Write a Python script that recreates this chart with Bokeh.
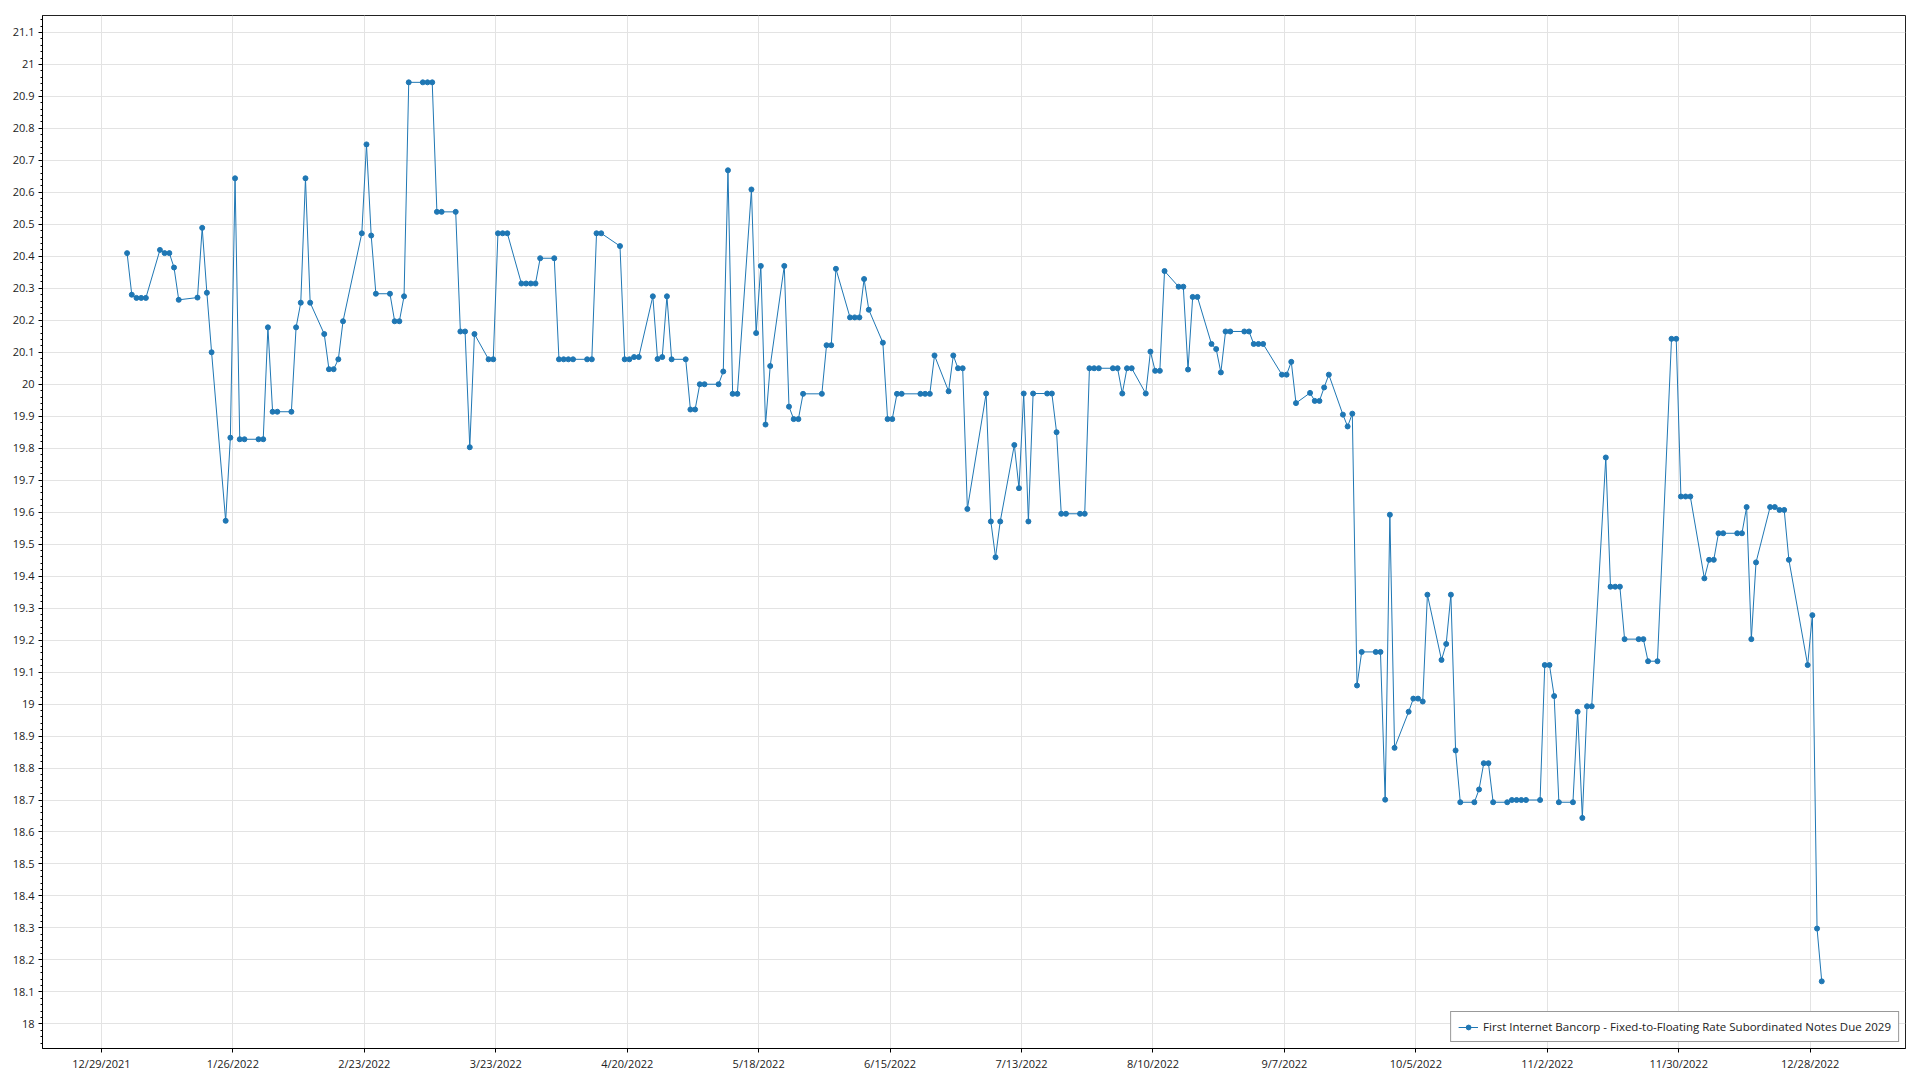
import pandas as pd
from bokeh.plotting import figure
from bokeh.models import Range1d, FixedTicker, CustomJSTickFormatter, ColumnDataSource
from bokeh.embed import file_html
from bokeh.resources import INLINE

series_label = "First Internet Bancorp - Fixed-to-Floating Rate Subordinated Notes Due 2029"

dates = [
    "2022-01-03", "2022-01-04", "2022-01-05", "2022-01-06", "2022-01-07", "2022-01-10", "2022-01-11",
    "2022-01-12", "2022-01-13", "2022-01-14", "2022-01-18", "2022-01-19", "2022-01-20", "2022-01-21",
    "2022-01-24", "2022-01-25", "2022-01-26", "2022-01-27", "2022-01-28", "2022-01-31", "2022-02-01",
    "2022-02-02", "2022-02-03", "2022-02-04", "2022-02-07", "2022-02-08", "2022-02-09", "2022-02-10",
    "2022-02-11", "2022-02-14", "2022-02-15", "2022-02-16", "2022-02-17", "2022-02-18", "2022-02-22",
    "2022-02-23", "2022-02-24", "2022-02-25", "2022-02-28", "2022-03-01", "2022-03-02", "2022-03-03",
    "2022-03-04", "2022-03-07", "2022-03-08", "2022-03-09", "2022-03-10", "2022-03-11", "2022-03-14",
    "2022-03-15", "2022-03-16", "2022-03-17", "2022-03-18", "2022-03-21", "2022-03-22", "2022-03-23",
    "2022-03-24", "2022-03-25", "2022-03-28", "2022-03-29", "2022-03-30", "2022-03-31", "2022-04-01",
    "2022-04-04", "2022-04-05", "2022-04-06", "2022-04-07", "2022-04-08", "2022-04-11", "2022-04-12",
    "2022-04-13", "2022-04-14", "2022-04-18", "2022-04-19", "2022-04-20", "2022-04-21", "2022-04-22",
    "2022-04-25", "2022-04-26", "2022-04-27", "2022-04-28", "2022-04-29", "2022-05-02", "2022-05-03",
    "2022-05-04", "2022-05-05", "2022-05-06", "2022-05-09", "2022-05-10", "2022-05-11", "2022-05-12",
    "2022-05-13", "2022-05-16", "2022-05-17", "2022-05-18", "2022-05-19", "2022-05-20", "2022-05-23",
    "2022-05-24", "2022-05-25", "2022-05-26", "2022-05-27", "2022-05-31", "2022-06-01", "2022-06-02",
    "2022-06-03", "2022-06-06", "2022-06-07", "2022-06-08", "2022-06-09", "2022-06-10", "2022-06-13",
    "2022-06-14", "2022-06-15", "2022-06-16", "2022-06-17", "2022-06-21", "2022-06-22", "2022-06-23",
    "2022-06-24", "2022-06-27", "2022-06-28", "2022-06-29", "2022-06-30", "2022-07-01", "2022-07-05",
    "2022-07-06", "2022-07-07", "2022-07-08", "2022-07-11", "2022-07-12", "2022-07-13", "2022-07-14",
    "2022-07-15", "2022-07-18", "2022-07-19", "2022-07-20", "2022-07-21", "2022-07-22", "2022-07-25",
    "2022-07-26", "2022-07-27", "2022-07-28", "2022-07-29", "2022-08-01", "2022-08-02", "2022-08-03",
    "2022-08-04", "2022-08-05", "2022-08-08", "2022-08-09", "2022-08-10", "2022-08-11", "2022-08-12",
    "2022-08-15", "2022-08-16", "2022-08-17", "2022-08-18", "2022-08-19", "2022-08-22", "2022-08-23",
    "2022-08-24", "2022-08-25", "2022-08-26", "2022-08-29", "2022-08-30", "2022-08-31", "2022-09-01",
    "2022-09-02", "2022-09-06", "2022-09-07", "2022-09-08", "2022-09-09", "2022-09-12", "2022-09-13",
    "2022-09-14", "2022-09-15", "2022-09-16", "2022-09-19", "2022-09-20", "2022-09-21", "2022-09-22",
    "2022-09-23", "2022-09-26", "2022-09-27", "2022-09-28", "2022-09-29", "2022-09-30", "2022-10-03",
    "2022-10-04", "2022-10-05", "2022-10-06", "2022-10-07", "2022-10-10", "2022-10-11", "2022-10-12",
    "2022-10-13", "2022-10-14", "2022-10-17", "2022-10-18", "2022-10-19", "2022-10-20", "2022-10-21",
    "2022-10-24", "2022-10-25", "2022-10-26", "2022-10-27", "2022-10-28", "2022-10-31", "2022-11-01",
    "2022-11-02", "2022-11-03", "2022-11-04", "2022-11-07", "2022-11-08", "2022-11-09", "2022-11-10",
    "2022-11-11", "2022-11-14", "2022-11-15", "2022-11-16", "2022-11-17", "2022-11-18", "2022-11-21",
    "2022-11-22", "2022-11-23", "2022-11-25", "2022-11-28", "2022-11-29", "2022-11-30", "2022-12-01",
    "2022-12-02", "2022-12-05", "2022-12-06", "2022-12-07", "2022-12-08", "2022-12-09", "2022-12-12",
    "2022-12-13", "2022-12-14", "2022-12-15", "2022-12-16", "2022-12-19", "2022-12-20", "2022-12-21",
    "2022-12-22", "2022-12-23", "2022-12-27", "2022-12-28", "2022-12-29", "2022-12-30",
]

prices = [
    20.41, 20.28, 20.27, 20.27, 20.27, 20.42, 20.41,
    20.41, 20.365, 20.264, 20.271, 20.489, 20.286, 20.10,
    19.573, 19.833, 20.644, 19.828, 19.828, 19.828, 19.828,
    20.178, 19.914, 19.914, 19.914, 20.178, 20.255, 20.644,
    20.255, 20.157, 20.047, 20.047, 20.078, 20.197, 20.472,
    20.750, 20.465, 20.283, 20.283, 20.197, 20.197, 20.275,
    20.944, 20.944, 20.944, 20.944, 20.539, 20.539, 20.539,
    20.165, 20.165, 19.803, 20.157, 20.078, 20.078, 20.472,
    20.472, 20.472, 20.315, 20.315, 20.315, 20.315, 20.394,
    20.394, 20.078, 20.078, 20.078, 20.078, 20.078, 20.078,
    20.472, 20.472, 20.432, 20.078, 20.078, 20.085, 20.085,
    20.275, 20.079, 20.085, 20.275, 20.078, 20.078, 19.921,
    19.921, 20.00, 20.00, 20.00, 20.04, 20.669, 19.97,
    19.97, 20.609, 20.16, 20.37, 19.874, 20.057, 20.37,
    19.93, 19.891, 19.891, 19.97, 19.97, 20.122, 20.122,
    20.361, 20.209, 20.209, 20.209, 20.329, 20.233, 20.13,
    19.891, 19.891, 19.97, 19.97, 19.97, 19.97, 19.97,
    20.09, 19.978, 20.09, 20.05, 20.05, 19.61, 19.971,
    19.571, 19.459, 19.571, 19.81, 19.675, 19.971, 19.571,
    19.971, 19.971, 19.971, 19.85, 19.595, 19.595, 19.595,
    19.595, 20.05, 20.05, 20.05, 20.05, 20.05, 19.971,
    20.05, 20.05, 19.971, 20.102, 20.042, 20.042, 20.354,
    20.305, 20.305, 20.046, 20.273, 20.273, 20.126, 20.11,
    20.037, 20.165, 20.165, 20.165, 20.165, 20.126, 20.126,
    20.126, 20.03, 20.03, 20.07, 19.941, 19.973, 19.948,
    19.948, 19.99, 20.03, 19.905, 19.868, 19.908, 19.058,
    19.163, 19.163, 19.163, 18.701, 19.592, 18.863, 18.976,
    19.017, 19.017, 19.008, 19.342, 19.138, 19.188, 19.342,
    18.855, 18.693, 18.693, 18.733, 18.815, 18.815, 18.693,
    18.693, 18.70, 18.70, 18.70, 18.70, 18.70, 19.122,
    19.122, 19.025, 18.693, 18.693, 18.976, 18.644, 18.993,
    18.993, 19.771, 19.367, 19.367, 19.367, 19.203, 19.203,
    19.203, 19.134, 19.134, 20.142, 20.142, 19.649, 19.649,
    19.649, 19.393, 19.451, 19.451, 19.534, 19.534, 19.534,
    19.534, 19.616, 19.203, 19.443, 19.616, 19.616, 19.607,
    19.607, 19.451, 19.122, 19.278, 18.298, 18.133,
]

x_tick_dates = [
    "2021-12-29", "2022-01-26", "2022-02-23", "2022-03-23", "2022-04-20", "2022-05-18", "2022-06-15",
    "2022-07-13", "2022-08-10", "2022-09-07", "2022-10-05", "2022-11-02", "2022-11-30", "2022-12-28",
]
y_ticks = [round(18.0 + 0.1 * i, 1) for i in range(32)]
y_minor_ticks = [round(17.92 + 0.02 * i, 2) for i in range(162)]

BLUE = "#1f77b4"
FONT = "Open Sans"

xs = pd.to_datetime(pd.Series(dates)) + pd.Timedelta(hours=11)
source = ColumnDataSource(dict(x=xs, y=prices))

t0 = pd.Timestamp("2021-12-29")
p = figure(
    width=1910, height=1073,
    x_axis_type="datetime",
    x_range=Range1d(t0 - pd.Timedelta(days=12.56), t0 + pd.Timedelta(days=384.3)),
    y_range=Range1d(17.923, 21.153),
    output_backend="svg", toolbar_location=None,
    min_border_left=42, min_border_right=5, min_border_top=15, min_border_bottom=22,
    background_fill_color="white", border_fill_color="white",
)
p.outline_line_color = "#222222"
p.outline_line_width = 1

p.line("x", "y", source=source, line_color=BLUE, line_width=1, legend_label=series_label)
p.scatter("x", "y", source=source, size=5, fill_color=BLUE, line_color=BLUE, legend_label=series_label)

x_ticks_ms = [pd.Timestamp(d).value // 10**6 for d in x_tick_dates]
p.xaxis.ticker = FixedTicker(ticks=x_ticks_ms)
p.xaxis.formatter = CustomJSTickFormatter(code="""
const d = new Date(tick);
return (d.getUTCMonth() + 1) + "/" + d.getUTCDate() + "/" + d.getUTCFullYear();
""")
p.yaxis.ticker = FixedTicker(ticks=y_ticks, minor_ticks=y_minor_ticks)
p.yaxis.formatter = CustomJSTickFormatter(code="return parseFloat(tick.toFixed(1)).toString();")

for ax in (p.xaxis[0], p.yaxis[0]):
    ax.axis_line_color = "black"
    ax.axis_line_width = 1
    ax.major_tick_line_color = "black"
    ax.minor_tick_line_color = "black"
    ax.major_tick_in = 0
    ax.major_tick_out = 4
    ax.minor_tick_in = 0
    ax.minor_tick_out = 2
    ax.major_label_text_font = FONT
    ax.major_label_text_font_size = "11px"
    ax.major_label_text_color = "#222222"
    ax.major_label_standoff = 3
p.xaxis.minor_tick_out = 0
p.yaxis.major_label_standoff = 4

p.xgrid.grid_line_color = "#e3e3e3"
p.ygrid.grid_line_color = "#e3e3e3"
p.xgrid.grid_line_width = 1
p.ygrid.grid_line_width = 1

lg = p.legend[0]
lg.location = "bottom_right"
lg.border_line_color = "#333333"
lg.border_line_width = 1.5
lg.background_fill_color = "white"
lg.background_fill_alpha = 1
lg.label_text_font = FONT
lg.label_text_font_size = "11.5px"
lg.label_text_color = "#222222"
lg.glyph_width = 20
lg.glyph_height = 12
lg.label_height = 13
lg.padding = 7
lg.spacing = 0
lg.margin = 6
lg.label_standoff = 5

open("out.html", "w").write(file_html(p, INLINE))
